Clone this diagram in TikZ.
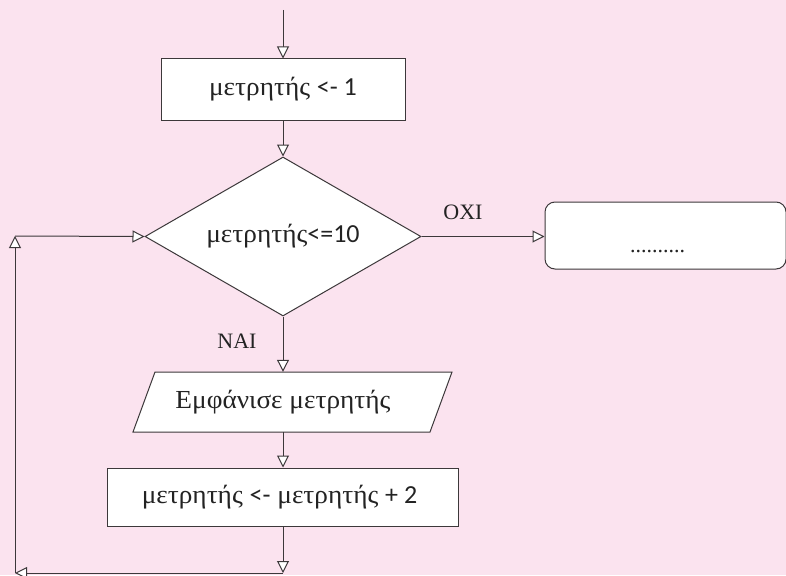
\documentclass[tikz,border=0pt]{standalone}
\usepackage{fontspec}
\setmainfont{Liberation Serif}
\newfontfamily\greekfont[FakeStretch=1.05]{Liberation Serif}
\newfontfamily\numfont{Carlito}
\usetikzlibrary{arrows.meta,shapes.geometric}
\definecolor{bgpink}{RGB}{251,227,239}
\definecolor{linegray}{RGB}{60,56,58}
\definecolor{inkgray}{RGB}{35,35,35}
\newcommand{\nm}[1]{{\numfont #1}}
\begin{document}
\begin{tikzpicture}[x=1pt,y=-1pt,
  every node/.style={font=\greekfont\fontsize{26}{30}\selectfont, text=inkgray},
  tag/.style={font=\fontsize{22}{26}\selectfont},
  box/.style={draw=linegray, fill=white, line width=1pt, inner sep=0pt},
  flow/.style={draw=linegray, line width=1pt,
    -{Triangle[length=12pt,width=12pt,fill=white,line width=1pt]}}
]
% page
\fill[bgpink] (0,0) rectangle (786,575);
\useasboundingbox (0,0) rectangle (786,575);

% flowchart blocks
\node[box, minimum width=244pt, minimum height=61pt] (init) at (283,89.5)
  {μετρητής \nm{<- 1}};
\node[box, diamond, aspect=1.736, minimum width=276pt, minimum height=159pt]
  (cond) at (283,236.5) {μετρητής\nm{<=10}};
\node[box, rectangle, rounded corners=10pt, minimum width=241pt, minimum height=67pt,
  label={[tag, xshift=-8pt, yshift=-16pt]center:..........}] (stop) at (665.5,235.5) {};

% output block: slanted input/output shape
\draw[box] (155,372) -- (452,372) -- (430,432) -- (133,432) -- cycle;
\node[minimum width=275pt, minimum height=60pt, inner sep=0pt] (show) at (283,402)
  {Εμφάνισε μετρητής};

\node[box, minimum width=351pt, minimum height=58pt] (update) at (282.5,497)
  {\hspace*{-6pt}μετρητής \nm{<-} μετρητής \nm{+ 2}};

% branch labels
\node[tag] (no) at (463,212) {OXI};
\node[tag] (yes) at (237,341) {NAI};

% loop route
\coordinate (entry) at (283,10);
\coordinate (loopA) at (283,573);
\coordinate (loopB) at (15,573);
\coordinate (loopC) at (15,236);

% connectors
\draw[flow] (entry) -- (init.north);
\draw[flow] (init.south) -- (cond.north);
\draw[flow] (cond.east) -- (cond.east -| stop.west);
\draw[flow] (cond.south) -- (cond.south |- show.north);
\draw[flow] (cond.south |- show.south) -- (cond.south |- update.north);
\draw[flow] (cond.south |- update.south) -- (loopA);
\draw[flow] (loopA) -- (loopB);
\draw[flow] (loopB) -- (loopC);
\draw[flow] (loopC) -- (cond.west);
\end{tikzpicture}
\end{document}
